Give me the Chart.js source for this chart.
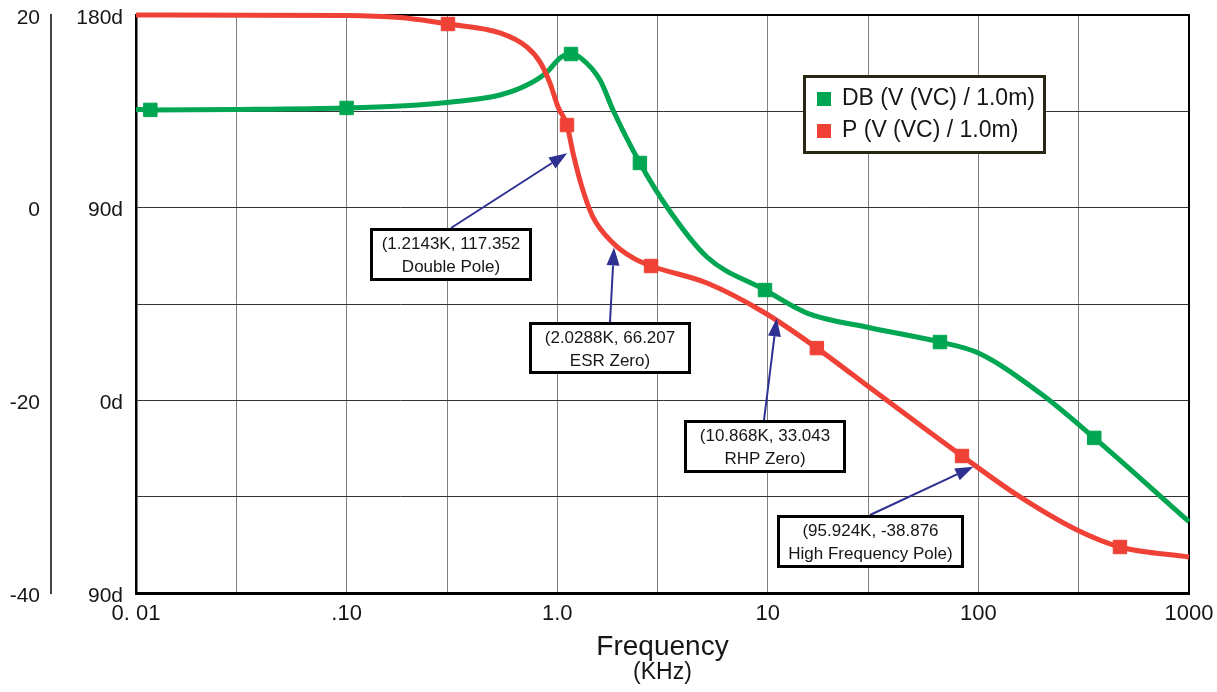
<!DOCTYPE html>
<html>
<head>
<meta charset="utf-8">
<title>Bode plot</title>
<script src="https://cdn.jsdelivr.net/npm/chart.js@4.4.1/dist/chart.umd.min.js"></script>
<style>
  html, body { margin: 0; padding: 0; background: #fff; }
  #wrap { width: 1217px; height: 692px; }
</style>
</head>
<body>
<div id="wrap"><canvas id="bode" width="1217" height="692"></canvas></div>
<script>
// ─── DATA ───────────────────────────────────────────────────────
// gain curve, DB (V (VC) / 1.0m)
const dbFreq  = [0.01, 0.0117, 0.03, 0.1, 0.179, 0.308, 0.535, 0.719, 0.895, 1.031, 1.163, 1.30, 1.597, 1.84, 2.47, 3.32, 5.14, 9.70, 15.35, 30.9, 65.7, 100, 196, 355, 1000];
const dbValue = [10.2, 10.15, 10.2, 10.35, 10.55, 10.95, 11.7, 12.73, 14.08, 15.54, 15.95, 15.5, 13.25, 10.14, 4.64, 0.07, -5.12, -8.55, -10.94, -12.49, -13.95, -15.09, -19.24, -23.9, -32.6];
const dbMarkFreq = [0.0117, 0.1, 1.163, 2.47, 9.70, 65.7, 355];

// phase curve, P (V (VC) / 1.0m)
const phFreq  = [0.01, 0.1, 0.179, 0.303, 0.535, 0.719, 0.829, 0.924, 1.009, 1.113, 1.189, 1.311, 1.479, 1.841, 2.29, 2.79, 5.14, 9.70, 17.1, 31.6, 83.6, 152.5, 294, 470, 1000];
const phValue = [180, 179.8, 178.8, 175.8, 171.6, 165.0, 158.0, 148.2, 137.0, 128.6, 115.5, 99.6, 85.6, 73.5, 66.5, 62.75, 54.8, 40.8, 24.4, 4.8, -26.0, -44.2, -60.6, -68.5, -73.2];
const phMarkFreq = [0.303, 1.113, 2.79, 17.1, 83.6, 470];

// axes
const xGrid = [0.01, 0.03, 0.1, 0.3, 1, 3, 10, 30, 100, 300, 1000];
const xDecades = [0.01, 0.1, 1, 10, 100, 1000];
const xTickLabels = ["0. 01", ".10", "1.0", "10", "100", "1000"];
const dbTicks = [20, 0, -20, -40];
const dbTickLabels = ["20", "0", "-20", "-40"];
const phTicks = [180, 90, 0, -90];
const phTickLabels = ["180d", "90d", "0d", "90d"];

// callouts: where the arrow points (freq, phase) and what the box says
const noteFreq  = [1.115, 1.861, 11.02, 94.6];
const notePhase = [115.4, 71.4, 38.3, -31.0];
const noteText  = [
  ["(1.2143K, 117.352", "Double Pole)"],
  ["(2.0288K, 66.207", "ESR Zero)"],
  ["(10.868K, 33.043", "RHP Zero)"],
  ["(95.924K, -38.876", "High Frequency Pole)"],
];

// ─── STYLE ──────────────────────────────────────────────────────
const C = {
  green: "#00a651",
  red:   "#ef4136",
  ink:   "#161616",
  arrow: "#2e3192",
  frame: "#2a2614",
};
const FONT = "'Liberation Sans', Arial, sans-serif";
Chart.defaults.font.family = FONT;
Chart.defaults.color = C.ink;

// box layout for the callouts (pixels), tail = x where the arrow leaves the box
const NOTE_BOX = [
  { x: 370, y: 228, w: 162, h: 53, tail: 451 },
  { x: 529, y: 322, w: 162, h: 52, tail: 610 },
  { x: 684, y: 420, w: 162, h: 53, tail: 764 },
  { x: 777, y: 515, w: 187, h: 53, tail: 870 },
];
const LEGEND_BOX = { x: 803, y: 75, w: 243, h: 79 };

function markRadius(marks) {
  return ctx => (ctx.raw && marks.includes(ctx.raw.x)) ? 9.5 : 0;
}

// no extra room for half-labels at the ends of the axes
function noEdgePad(s) {
  s.paddingTop = 0; s.paddingBottom = 0;
  s.paddingLeft = 0; s.paddingRight = 0;
}

// ─── OVERLAY: frame, legend, callouts ───────────────────────────
const overlay = {
  id: "overlay",
  beforeDatasetsDraw(chart) {
    const { ctx, chartArea: a } = chart;
    ctx.save();
    ctx.strokeStyle = "#000";
    ctx.lineWidth = 2;
    ctx.beginPath();
    ctx.moveTo(a.left, a.top);
    ctx.lineTo(a.right, a.top);
    ctx.lineTo(a.right, a.bottom);
    ctx.stroke();
    ctx.restore();
  },
  afterDatasetsDraw(chart) {
    const { ctx, scales } = chart;
    ctx.save();

    // callouts
    noteText.forEach((lines, i) => {
      const b = NOTE_BOX[i];
      const tx = scales.x.getPixelForValue(noteFreq[i]);
      const ty = scales.yPh.getPixelForValue(notePhase[i]);
      const ang = Math.atan2(ty - b.y, tx - b.tail);
      const head = 18, half = 6.5;
      const bx = tx - head * Math.cos(ang), by = ty - head * Math.sin(ang);
      ctx.strokeStyle = C.arrow;
      ctx.fillStyle = C.arrow;
      ctx.lineWidth = 2;
      ctx.beginPath();
      ctx.moveTo(b.tail, b.y);
      ctx.lineTo(bx, by);
      ctx.stroke();
      ctx.beginPath();
      ctx.moveTo(tx, ty);
      ctx.lineTo(bx + half * Math.sin(ang), by - half * Math.cos(ang));
      ctx.lineTo(bx - half * Math.sin(ang), by + half * Math.cos(ang));
      ctx.closePath();
      ctx.fill();

      ctx.fillStyle = "#fff";
      ctx.fillRect(b.x, b.y, b.w, b.h);
      ctx.strokeStyle = "#000";
      ctx.lineWidth = 3;
      ctx.strokeRect(b.x + 1.5, b.y + 1.5, b.w - 3, b.h - 3);
      ctx.fillStyle = C.ink;
      ctx.font = "17px " + FONT;
      ctx.textAlign = "center";
      ctx.textBaseline = "middle";
      ctx.fillText(lines[0], b.x + b.w / 2, b.y + 16);
      ctx.fillText(lines[1], b.x + b.w / 2, b.y + 39);
    });

    // legend
    const L = LEGEND_BOX;
    ctx.fillStyle = "#fff";
    ctx.fillRect(L.x, L.y, L.w, L.h);
    ctx.strokeStyle = C.frame;
    ctx.lineWidth = 3;
    ctx.strokeRect(L.x + 1.5, L.y + 1.5, L.w - 3, L.h - 3);
    ctx.font = "23px " + FONT;
    ctx.textAlign = "left";
    ctx.textBaseline = "middle";
    chart.data.datasets.forEach((ds, i) => {
      const cy = L.y + 24 + i * 32;
      ctx.fillStyle = ds.borderColor;
      ctx.fillRect(L.x + 14, cy - 7, 14, 14);
      ctx.fillStyle = C.ink;
      ctx.fillText(ds.label, L.x + 39, cy);
    });
    ctx.restore();
  },
};

// ─── CHART ──────────────────────────────────────────────────────
new Chart(document.getElementById("bode"), {
  type: "scatter",
  data: {
    datasets: [
      {
        label: "DB (V (VC) / 1.0m)",
        data: dbFreq.map((f, i) => ({ x: f, y: dbValue[i] })),
        yAxisID: "yDb",
        showLine: true,
        borderColor: C.green,
        backgroundColor: C.green,
        borderWidth: 5,
        cubicInterpolationMode: "monotone",
        pointStyle: "rect",
        pointRadius: markRadius(dbMarkFreq),
        pointHoverRadius: markRadius(dbMarkFreq),
        pointBorderWidth: 1,
        clip: false,
        order: 1,
      },
      {
        label: "P (V (VC) / 1.0m)",
        data: phFreq.map((f, i) => ({ x: f, y: phValue[i] })),
        yAxisID: "yPh",
        showLine: true,
        borderColor: C.red,
        backgroundColor: C.red,
        borderWidth: 5,
        cubicInterpolationMode: "monotone",
        pointStyle: "rect",
        pointRadius: markRadius(phMarkFreq),
        pointHoverRadius: markRadius(phMarkFreq),
        pointBorderWidth: 1,
        clip: false,
        order: 0,
      },
    ],
  },
  options: {
    responsive: false,
    animation: false,
    events: [],
    layout: { padding: { top: 15, right: 28, bottom: 0, left: 0 } },
    plugins: {
      legend: { display: false },
      tooltip: { enabled: false },
      subtitle: {
        display: true,
        text: "(KHz)",
        position: "bottom",
        fullSize: false,
        color: C.ink,
        font: { size: 23, weight: "normal", lineHeight: 1 },
        padding: { top: 0, bottom: 8 },
      },
    },
    scales: {
      x: {
        type: "logarithmic",
        min: 0.01,
        max: 1000,
        afterBuildTicks: s => { s.ticks = xGrid.map(v => ({ value: v })); },
        afterFit: s => { s.height = 68; noEdgePad(s); },
        ticks: {
          autoSkip: false,
          maxRotation: 0,
          padding: 8,
          font: { size: 22 },
          color: C.ink,
          callback: v => {
            const i = xDecades.indexOf(v);
            return i >= 0 ? xTickLabels[i] : "";
          },
        },
        grid: { color: "#808080", lineWidth: 1, drawTicks: false },
        border: { display: true, color: "#000", width: 3 },
        title: {
          display: true,
          text: "Frequency",
          color: C.ink,
          font: { size: 28, lineHeight: 1 },
          padding: { top: 0, bottom: 0 },
        },
      },
      yPh: {
        position: "left",
        weight: 0,
        min: -90,
        max: 180,
        afterFit: s => { s.width = 85; noEdgePad(s); },
        ticks: {
          stepSize: 45,
          padding: 13,
          labelOffset: 3,
          font: { size: 21 },
          color: C.ink,
          callback: v => {
            const i = phTicks.indexOf(v);
            return i >= 0 ? phTickLabels[i] : "";
          },
        },
        grid: { color: "#333", lineWidth: 1, drawTicks: false },
        border: { display: true, color: "#000", width: 2.5 },
      },
      yDb: {
        position: "left",
        weight: 1,
        min: -40,
        max: 20,
        afterBuildTicks: s => { s.ticks = dbTicks.map(v => ({ value: v })); },
        afterFit: s => { s.width = 51; noEdgePad(s); },
        ticks: {
          padding: 11,
          labelOffset: 3,
          font: { size: 21 },
          color: C.ink,
          callback: v => dbTickLabels[dbTicks.indexOf(v)],
        },
        grid: { drawOnChartArea: false, drawTicks: false },
        border: { display: true, color: "#444", width: 2 },
      },
    },
  },
  plugins: [overlay],
});
</script>
</body>
</html>
